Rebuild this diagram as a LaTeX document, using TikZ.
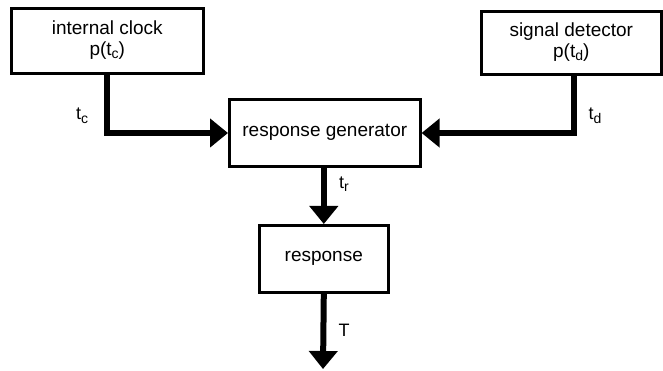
\documentclass[tikz,border=0pt]{standalone}
\usepackage{fontspec}
\setmainfont{Liberation Sans}
\usetikzlibrary{arrows.meta}
\newcommand{\sbs}[1]{\raisebox{-3.5pt}{\fontsize{14}{14}\selectfont #1}}
\begin{document}
\begin{tikzpicture}[x=1pt,y=-1pt,
  blk/.style={draw,line width=2.6pt,inner sep=0pt,anchor=north west},
  flow/.style={line width=6pt,-{Triangle[length=18pt,width=28pt]}},
  lbl/.style={font=\fontsize{18}{20}\selectfont},
  txt/.style={font=\fontsize{19}{21}\selectfont,align=center}]
\useasboundingbox (0,0) rectangle (663,371);
\node[blk,minimum width=192pt,minimum height=65pt] (clk) at (10,7) {};
\node[blk,minimum width=180pt,minimum height=63pt] (det) at (480,10) {};
\node[blk,minimum width=191pt,minimum height=67pt] (gen) at (228,98) {};
\node[blk,minimum width=129pt,minimum height=67pt] (resp) at (258,224) {};
\node[txt] (clkt) at ([yshift=1pt]clk.center) {internal clock\\ p(t\sbs{c})};
\node[txt] (dett) at ([yshift=1pt]det.center) {signal detector\\ p(t\sbs{d})};
\node[txt] (gent) at (gen.center) {response generator};
\node[txt] (respt) at (resp.center) {response};
\coordinate (c1) at (107,133);
\coordinate (d1) at (574,133);
\coordinate (out) at (323,369);
\draw[flow] (clk.south -| c1) -- (c1) -- (c1 -| gen.west);
\draw[flow] (det.south -| d1) -- (d1) -- (d1 -| gen.east);
\draw[flow] (gen.south -| resp.north) -- (resp.north);
\draw[flow] (resp.south) -- (out);
\node[lbl] (tc) at (82,116) {t\sbs{c}};
\node[lbl] (td) at (595,116) {t\sbs{d}};
\node[lbl] (tr) at (344,184) {t\sbs{r}};
\node[lbl] (T) at (344,330) {T};
\end{tikzpicture}
\end{document}
